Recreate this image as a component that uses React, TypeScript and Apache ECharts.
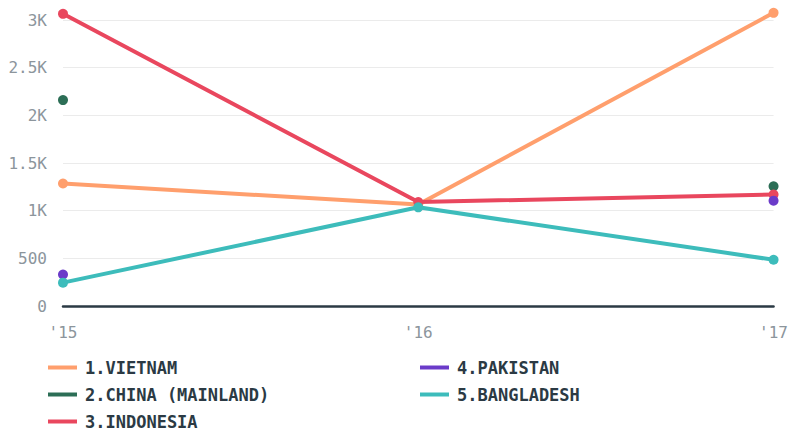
import React, { useEffect, useRef } from "react";
import * as echarts from "echarts";

const categories = ["'15", "'16", "'17"];
const seriesNames = ["1.VIETNAM", "2.CHINA (MAINLAND)", "3.INDONESIA", "4.PAKISTAN", "5.BANGLADESH"];
const vietnam = [1285, 1065, 3075];
const china = [2160, null, 1255];
const indonesia = [3065, 1090, 1170];
const pakistan = [330, null, 1105];
const bangladesh = [245, 1035, 485];
const yTicks = [0, 500, 1000, 1500, 2000, 2500, 3000];
const colors = ["#ff9f6d", "#2c6e56", "#e9475e", "#6b3bc9", "#3dbcbb"];

const FONT = "'DejaVu Sans Mono', monospace";

export default function App() {
  const ref = useRef<HTMLDivElement>(null);
  useEffect(() => {
    if (!ref.current) return;
    const chart = echarts.init(ref.current, undefined, { renderer: "svg" });
    const data = [vietnam, china, indonesia, pakistan, bangladesh];
    const legendBase = {
      orient: "vertical" as const,
      top: 359,
      height: 100,
      padding: 0,
      icon: "rect",
      itemWidth: 29,
      itemHeight: 4,
      itemGap: 10,
      selectedMode: false,
      textStyle: {
        fontFamily: FONT,
        fontSize: 17,
        fontWeight: "bold" as const,
        color: "#2b3a44",
        padding: [0, 0, 0, 3],
      },
    };
    chart.setOption({
      animation: false,
      color: colors,
      grid: { left: 63, right: 15, top: 20, bottom: 125, containLabel: false },
      legend: [
        { ...legendBase, left: 48, data: seriesNames.slice(0, 3) },
        { ...legendBase, left: 420, data: seriesNames.slice(3) },
      ],
      xAxis: {
        type: "category",
        data: categories,
        boundaryGap: false,
        axisLine: { show: true, lineStyle: { color: "#2b3a44", width: 2.5 } },
        axisTick: { show: false },
        axisLabel: { fontFamily: FONT, fontSize: 16, color: "#8c959c", margin: 18 },
        splitLine: { show: false },
      },
      yAxis: {
        type: "value",
        min: yTicks[0],
        max: yTicks[yTicks.length - 1],
        interval: 500,
        axisLine: { show: false },
        axisTick: { show: false },
        axisLabel: {
          fontFamily: FONT,
          fontSize: 16,
          color: "#8c959c",
          margin: 16,
          formatter: (v: number) => (v >= 1000 ? `${v / 1000}K` : `${v}`),
        },
        splitLine: { show: true, lineStyle: { color: "#ebebeb", width: 1 } },
      },
      series: seriesNames.map((name, i) => ({
        name,
        type: "line",
        data: data[i],
        clip: false,
        symbol: "circle",
        symbolSize: 10,
        showSymbol: true,
        connectNulls: false,
        lineStyle: { width: 4, color: colors[i] },
        itemStyle: { color: colors[i] },
      })),
    });
    return () => chart.dispose();
  }, []);
  return <div ref={ref} style={{ position: "absolute", left: 0, top: 0, width: 791, height: 431 }} />;
}
